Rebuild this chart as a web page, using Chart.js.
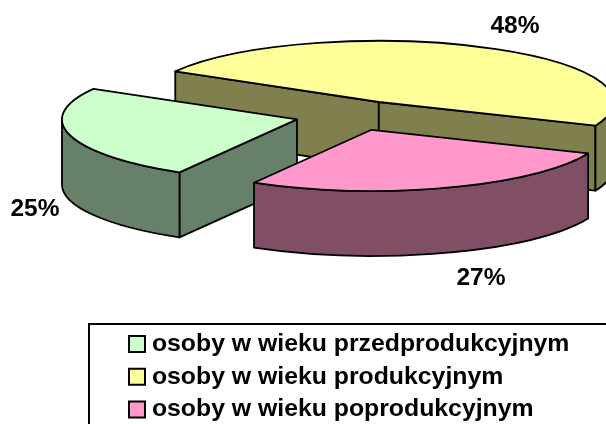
<!DOCTYPE html>
<html>
<head>
<meta charset="utf-8">
<style>
  html, body { margin: 0; padding: 0; background: #fff; overflow: hidden; }
  canvas { display: block; }
</style>
<script src="https://cdn.jsdelivr.net/npm/chart.js@4"></script>
</head>
<body>
<canvas id="chart" width="606" height="424"></canvas>
<script>
const categories = ['osoby w wieku przedprodukcyjnym', 'osoby w wieku produkcyjnym', 'osoby w wieku poprodukcyjnym'];
const values = [25, 48, 27];
const topColors = ['#CCFFCC', '#FFFF99', '#FF99CC'];
const sideColors = ['#66806A', '#80804F', '#804F66'];
const percentLabelPos = [[35, 209], [515, 26], [481, 278]];

// back slice first, the pink one has to end up on top
const drawOrder = [1, 0, 2];

const pieX = 353;
const pieY = 115.5;
const squash = 0.26;
const explode = 58;
const depth = 65;
const labelFont = 'bold 24.5px "Liberation Sans"';

function drawFace(ctx, fill) {
    ctx.fillStyle = fill;
    ctx.fill();
    ctx.stroke();
}

function drawSlice(ctx, arc, i) {
    const { startAngle, endAngle, outerRadius: r } = arc;
    const mid = (startAngle + endAngle) / 2;
    const cx = pieX + Math.cos(mid) * explode;
    const cy = pieY + Math.sin(mid) * explode * squash;
    const px = a => cx + Math.cos(a) * r;
    const py = a => cy + Math.sin(a) * r * squash;

    // radial walls, skip the ones turned away from the viewer
    [[startAngle, -1], [endAngle, 1]].forEach(([a, side]) => {
        if (Math.cos(a) * side <= 0) return;
        ctx.beginPath();
        ctx.moveTo(cx, cy);
        ctx.lineTo(px(a), py(a));
        ctx.lineTo(px(a), py(a) + depth);
        ctx.lineTo(cx, cy + depth);
        ctx.closePath();
        drawFace(ctx, sideColors[i]);
    });

    // curved wall, only the part that faces the viewer
    const turns = Math.floor(startAngle / (2 * Math.PI));
    [0, 1, 2].forEach(k => {
        const from = Math.max(startAngle, (turns + k) * 2 * Math.PI);
        const to = Math.min(endAngle, (turns + k) * 2 * Math.PI + Math.PI);
        if (to <= from) return;
        ctx.beginPath();
        ctx.ellipse(cx, cy, r, r * squash, 0, from, to);
        ctx.ellipse(cx, cy + depth, r, r * squash, 0, to, from, true);
        ctx.closePath();
        drawFace(ctx, sideColors[i]);
    });

    ctx.beginPath();
    ctx.moveTo(cx, cy);
    ctx.ellipse(cx, cy, r, r * squash, 0, startAngle, endAngle);
    ctx.closePath();
    drawFace(ctx, topColors[i]);
}

const pie3d = {
    id: 'pie3d',
    beforeDatasetDraw() {
        return false; // the flat pie is replaced below
    },
    afterDatasetsDraw(chart) {
        const ctx = chart.ctx;
        const arcs = chart.getDatasetMeta(0).data;
        ctx.save();
        ctx.strokeStyle = '#000';
        ctx.lineWidth = 1.8;
        ctx.lineJoin = 'round';
        drawOrder.forEach(i => drawSlice(ctx, arcs[i], i));

        ctx.fillStyle = '#000';
        ctx.font = labelFont;
        ctx.textAlign = 'center';
        ctx.textBaseline = 'middle';
        values.forEach((v, i) => {
            ctx.fillText(v + '%', percentLabelPos[i][0], percentLabelPos[i][1]);
        });
        ctx.restore();
    },
    afterDraw(chart) {
        // legend frame runs off the right and bottom of the picture
        const ctx = chart.ctx;
        ctx.save();
        ctx.strokeStyle = '#000';
        ctx.lineWidth = 2;
        ctx.strokeRect(89, 324, 600, 200);
        ctx.restore();
    }
};

new Chart(document.getElementById('chart'), {
    type: 'pie',
    data: {
        labels: categories,
        datasets: [{
            data: values,
            backgroundColor: topColors,
            borderColor: '#000',
            borderWidth: 2,
            radius: 235,
            clip: false
        }]
    },
    options: {
        responsive: false,
        animation: false,
        events: [],
        rotation: 210,
        layout: { padding: { left: 126.5, bottom: -8 } },
        plugins: {
            tooltip: { enabled: false },
            legend: {
                position: 'bottom',
                align: 'start',
                labels: {
                    usePointStyle: true,
                    pointStyle: 'rect',
                    boxWidth: 5, // keeps the text close to the swatch
                    boxHeight: 16,
                    padding: 8,
                    color: '#000',
                    font: { family: '"Liberation Sans"', size: 24.8, weight: 'bold' }
                }
            }
        }
    },
    plugins: [pie3d]
});
</script>
</body>
</html>
